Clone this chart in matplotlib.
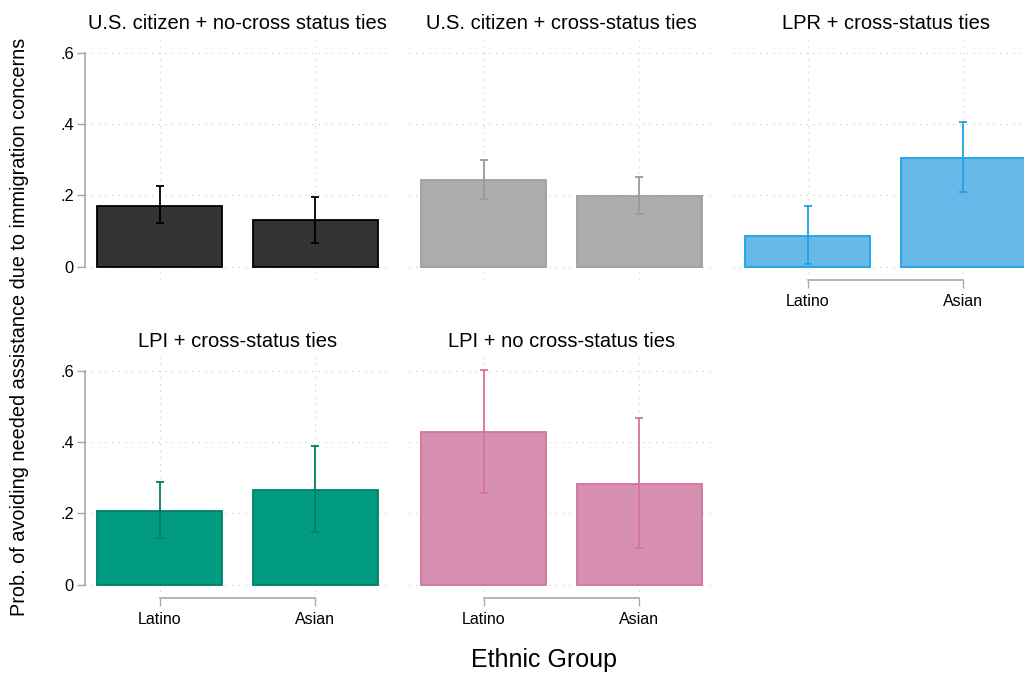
import matplotlib
matplotlib.use("Agg")
import matplotlib.pyplot as plt

plt.rcParams["font.family"] = ["Liberation Sans", "DejaVu Sans"]

# Data: predicted probabilities with 95% confidence intervals
groups = ["Latino", "Asian"]
titles = [
    "U.S. citizen + no-cross status ties",
    "U.S. citizen + cross-status ties",
    "LPR + cross-status ties",
    "LPI + cross-status ties",
    "LPI + no cross-status ties",
]
est_uscit_nocross = [0.171, 0.130]
lo_uscit_nocross = [0.122, 0.066]
hi_uscit_nocross = [0.225, 0.196]

est_uscit_cross = [0.243, 0.198]
lo_uscit_cross = [0.190, 0.147]
hi_uscit_cross = [0.300, 0.252]

est_lpr_cross = [0.086, 0.305]
lo_lpr_cross = [0.007, 0.209]
hi_lpr_cross = [0.169, 0.406]

est_lpi_cross = [0.207, 0.266]
lo_lpi_cross = [0.131, 0.148]
hi_lpi_cross = [0.288, 0.389]

est_lpi_nocross = [0.428, 0.283]
lo_lpi_nocross = [0.258, 0.104]
hi_lpi_nocross = [0.601, 0.466]

yticks = [0, 0.2, 0.4, 0.6]
ytick_labels = ["0", ".2", ".4", ".6"]

# fill, edge, error-bar colours per panel
styles = [
    ("#333333", "#000000", "#000000"),
    ("#adadad", "#9e9e9e", "#9a9a9a"),
    ("#65b8e8", "#1ea2e2", "#1ea2e2"),
    ("#009b80", "#007f68", "#007f68"),
    ("#d890b2", "#d2739f", "#d2739f"),
]

panels = [
    (est_uscit_nocross, lo_uscit_nocross, hi_uscit_nocross),
    (est_uscit_cross, lo_uscit_cross, hi_uscit_cross),
    (est_lpr_cross, lo_lpr_cross, hi_lpr_cross),
    (est_lpi_cross, lo_lpi_cross, hi_lpi_cross),
    (est_lpi_nocross, lo_lpi_nocross, hi_lpi_nocross),
]

W, H = 1024, 673
fig = plt.figure(figsize=(W / 100, H / 100), dpi=100)

# panel boxes in pixels: (left, top), shared width and height
col_left = [85, 409, 733]
row_top = [39, 357]
pw, ph = 305, 241
boxes = [
    (col_left[0], row_top[0]),
    (col_left[1], row_top[0]),
    (col_left[2], row_top[0]),
    (col_left[0], row_top[1]),
    (col_left[1], row_top[1]),
]
show_y = [True, False, False, True, False]
show_x = [False, False, True, True, True]

grid_kw = dict(color="#c8c8c8", lw=0.8, ls=(0, (1, 5)), zorder=0)
axis_color = "#a8a8a8"

x = [0, 1]
for i, ((l, t), (est, lo, hi), (fc, ec, erc)) in enumerate(zip(boxes, panels, styles)):
    ax = fig.add_axes([l / W, 1 - (t + ph) / H, pw / W, ph / H])
    ax.set_xlim(-0.48, 1.48)
    ax.set_ylim(-0.037, 0.638)
    for yv in yticks:
        ax.axhline(yv, **grid_kw)
    for xv in x:
        ax.axvline(xv, **grid_kw)
    ax.bar(x, est, width=0.8, color=fc, edgecolor=ec, linewidth=1.3, zorder=2)
    yerr = [[e - a for e, a in zip(est, lo)], [b - e for e, b in zip(est, hi)]]
    ax.errorbar(x, est, yerr=yerr, fmt="none", ecolor=erc, elinewidth=1.3,
                capsize=2.6, capthick=1.3, zorder=3)
    ax.set_title(titles[i], fontsize=14.5, pad=7)

    for s in ["top", "right"]:
        ax.spines[s].set_visible(False)
    if show_y[i]:
        ax.spines["left"].set_bounds(0, 0.6)
        ax.spines["left"].set_color(axis_color)
        ax.spines["left"].set_linewidth(1.2)
        ax.set_yticks(yticks)
        ax.set_yticklabels(ytick_labels, fontsize=11.8)
        ax.tick_params(axis="y", length=5.5, width=1.0, color=axis_color, pad=2.5)
    else:
        ax.spines["left"].set_visible(False)
        ax.set_yticks([])
    if show_x[i]:
        ax.spines["bottom"].set_bounds(0, 1)
        ax.spines["bottom"].set_color(axis_color)
        ax.spines["bottom"].set_linewidth(1.2)
        ax.set_xticks(x)
        ax.set_xticklabels(groups, fontsize=11.5)
        ax.tick_params(axis="x", length=5.5, width=1.0, color=axis_color, pad=4.5)
    else:
        ax.spines["bottom"].set_visible(False)
        ax.set_xticks([])

fig.text(20 / W, 1 - 327 / H,
         "Prob. of avoiding needed assistance due to immigration concerns",
         rotation=90, ha="center", va="center", fontsize=14.3)
fig.text(544 / W, 1 - 660 / H, "Ethnic Group", ha="center", va="center", fontsize=18)

fig.savefig("out.png", dpi=100, facecolor="white")
